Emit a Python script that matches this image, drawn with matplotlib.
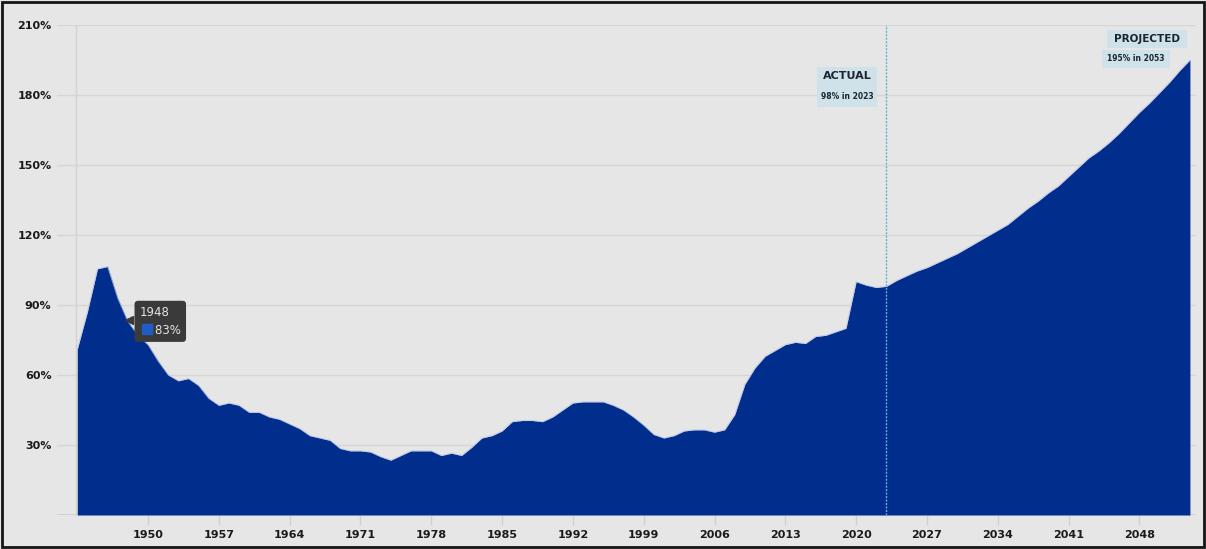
import matplotlib
matplotlib.use("Agg")
import matplotlib.pyplot as plt
from matplotlib.patches import Rectangle
from matplotlib.transforms import offset_copy

# Federal debt held by the public, % of GDP (actual through 2023, projected after)
years = list(range(1943, 2054))
debt_pct = [
    71, 87, 105.5, 106.5, 93, 83, 77, 73, 66, 60,            # 1943-1952
    57.5, 58.5, 55.5, 50, 47, 48, 47, 44, 44, 42,            # 1953-1962
    41, 39, 37, 34, 33, 32, 28.5, 27.5, 27.5, 27,            # 1963-1972
    25, 23.5, 25.5, 27.5, 27.5, 27.5, 25.5, 26.5, 25.5, 29,  # 1973-1982
    33, 34, 36, 40, 40.5, 40.5, 40, 42, 45, 48,              # 1983-1992
    48.5, 48.5, 48.5, 47, 45, 42, 38.5, 34.5, 33, 34,        # 1993-2002
    36, 36.5, 36.5, 35.5, 36.5, 43, 56, 63, 68, 70.5,        # 2003-2012
    73, 74, 73.5, 76.5, 77, 78.5, 80, 100, 98.5, 97.5,       # 2013-2022
    98, 100.5, 102.5, 104.5, 106, 108, 110, 112, 114.5, 117, # 2023-2032
    119.5, 122, 124.5, 128, 131.5, 134.5, 138, 141, 145, 149,  # 2033-2042
    153, 156, 159.5, 163.5, 168, 172.5, 176.5, 181, 185.5, 190.5,  # 2043-2052
    195,                                                     # 2053
]

x_ticks = list(range(1950, 2049, 7))
y_ticks = [30, 60, 90, 120, 150, 180, 210]
y_tick_labels = [f"{v}%" for v in y_ticks]

split_year = 2023
hover_year = 1948
hover_value = debt_pct[years.index(hover_year)]
actual_value = debt_pct[years.index(split_year)]
final_year = years[-1]
final_value = debt_pct[-1]

BG = "#e6e6e6"
FILL = "#012d8c"
GRID = "#d6d6d6"
TAG_BG = "#cfe2e9"
TAG_TXT = "#1b2430"

fig = plt.figure(figsize=(12.06, 5.49), dpi=100, facecolor=BG)
ax = fig.add_axes([0.0473, 0.0619, 0.9444, 0.8926], facecolor=BG)

ax.set_xlim(1941.0, 2053.6)
ax.set_ylim(0, 210)

# gridlines and baseline
for v in y_ticks:
    ax.axhline(v, color=GRID, lw=1, zorder=0)
ax.axhline(0, color="#cdcdcd", lw=1.2, zorder=0)
ax.axvline(years[0] - 0.1, color="#d2d2d2", lw=1, zorder=0)

ax.fill_between(years, debt_pct, 0, color=FILL, lw=0, zorder=2)
ax.plot(years, debt_pct, color="#b9c6e6", lw=0.8, alpha=0.7, zorder=3)

# actual / projected divider
ax.axvline(split_year, color="#5fb3d3", lw=1, ls=(0, (1.5, 1)), zorder=4)

# tag boxes (year units on x, percent on y)
ax.add_patch(Rectangle((2016.1, 174.9), 6.0, 17.1, fc=TAG_BG, ec="none", zorder=5))
ax.text(2019.1, 188.2, "ACTUAL", ha="center", va="center", fontsize=8,
        fontweight="bold", color=TAG_TXT, zorder=6)
ax.text(2019.1, 179.2, f"{actual_value:.0f}% in {split_year}", ha="center",
        va="center", fontsize=5.5, fontweight="bold", color=TAG_TXT, zorder=6)

ax.add_patch(Rectangle((2044.8, 200.2), 7.9, 7.7, fc=TAG_BG, ec="none", zorder=5))
ax.add_patch(Rectangle((2044.3, 191.6), 6.7, 7.7, fc=TAG_BG, ec="none", zorder=5))
ax.text(2048.75, 204.2, "PROJECTED", ha="center", va="center", fontsize=7.5,
        fontweight="bold", color=TAG_TXT, zorder=6)
ax.text(2047.65, 195.5, f"{final_value:.0f}% in {final_year}", ha="center",
        va="center", fontsize=5.5, fontweight="bold", color=TAG_TXT, zorder=6)

# hover tooltip on 1948
tip_text = f"{hover_year}\n    {hover_value:.0f}%"
ax.annotate(tip_text, xy=(hover_year, hover_value), xytext=(12, 0),
            textcoords="offset pixels", ha="left", va="center", fontsize=8.5,
            color="#e4e4e4", linespacing=1.45, zorder=6,
            bbox=dict(boxstyle="round,pad=0.45,rounding_size=0.3",
                      fc="#3a3a3a", ec="none"))
swatch_tr = offset_copy(ax.transData, fig=fig, x=19, y=-8, units="dots")
ax.plot([hover_year], [hover_value], marker="s", ms=7.5, color="#1f5cc4",
        transform=swatch_tr, zorder=7)
ax.plot([hover_year + 0.15], [hover_value + 0.5], marker="<", ms=6,
        color="#3a3a3a", zorder=6)

# axes styling
for side in ax.spines.values():
    side.set_visible(False)
ax.set_xticks(x_ticks)
ax.set_xticklabels([str(y) for y in x_ticks])
ax.set_yticks(y_ticks)
ax.set_yticklabels(y_tick_labels)
ax.tick_params(axis="x", length=7, width=1, color="#d0d0d0", pad=3.5,
               labelsize=8, labelcolor="#1a1a1a")
ax.tick_params(axis="y", length=0, pad=4, labelsize=8, labelcolor="#1a1a1a")
for lab in ax.get_xticklabels() + ax.get_yticklabels():
    lab.set_fontweight("bold")

# outer frame
fig.patches.append(Rectangle((0.002, 0.004), 0.996, 0.992, transform=fig.transFigure,
                             fill=False, ec="#151515", lw=2))

fig.savefig("out.png", dpi=100, facecolor=BG)
